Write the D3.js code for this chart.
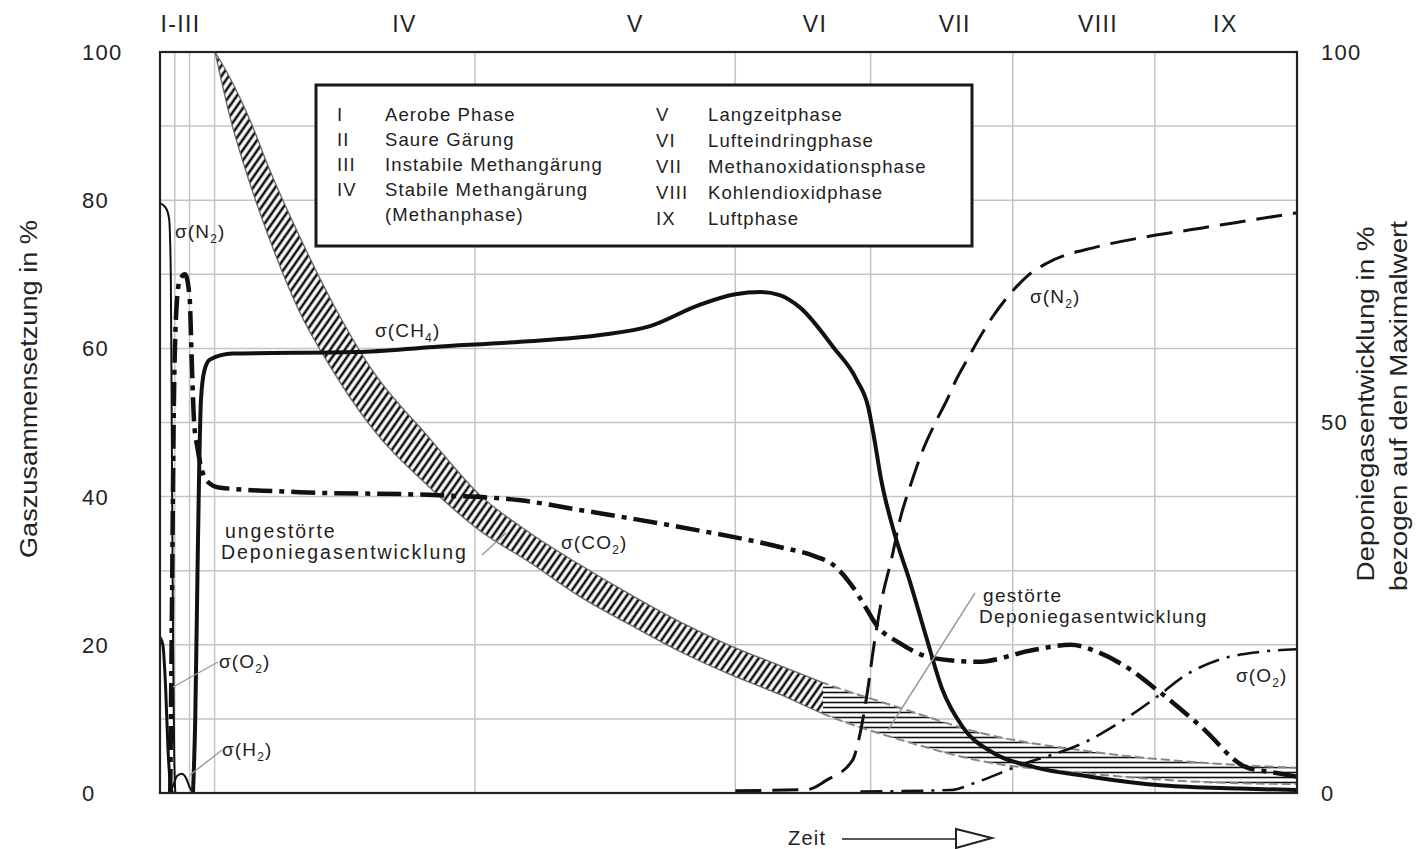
<!DOCTYPE html>
<html>
<head>
<meta charset="utf-8">
<script src="https://cdn.jsdelivr.net/npm/d3@7"></script>
<style>
	html, body { margin: 0; padding: 0; background: #fff; }
	svg { display: block; }
	text { font-family: 'Liberation Sans', Arial, sans-serif; fill: #222; letter-spacing: 0.06em; }
</style>
</head>
<body>
<script>
// phases along the time axis (time runs 0..100, no units)
const phaseLabels = ['I-III', 'IV', 'V', 'VI', 'VII', 'VIII', 'IX'];
const phaseT = [1.8, 21.5, 41.8, 57.6, 69.9, 82.5, 93.7];
const gridT = [1.3, 2.6, 4.8, 27.7, 50.6, 62.5, 75, 87.5];
const gridV = [10, 20, 30, 40, 50, 60, 70, 80, 90];
const leftTicks = [0, 20, 40, 60, 80, 100];
const rightTicks = [0, 50, 100];

// gas composition in % : [time, value]
const ch4 = [[2.9, 0], [3.1, 10], [3.3, 30], [3.45, 44], [3.6, 53], [3.9, 57], [4.4, 58.5], [6.4, 59.3],
	[17.3, 59.5], [24.1, 60.2], [31.7, 60.9], [38.7, 61.8], [43.1, 63], [47.5, 65.9], [50.6, 67.3],
	[52.8, 67.6], [54.5, 67.2], [56.3, 65.5], [59.2, 60.2], [61.3, 55.7], [62.3, 52], [62.8, 48],
	[63.4, 42.5], [64.6, 35], [66.0, 28.3], [67.4, 21], [68.8, 14], [70.6, 8.9], [73.3, 5.4],
	[76.9, 3.5], [81.8, 2.2], [88.3, 1.0], [95, 0.6], [100, 0.4]];
const co2 = [[0.9, 0], [1.05, 25], [1.2, 50], [1.4, 64], [1.7, 69], [2.2, 70], [2.6, 67], [2.8, 58],
	[3.0, 50], [3.3, 46.5], [3.7, 43.5], [4.2, 42], [5.3, 41.2], [12.3, 40.6], [24.1, 40.2], [31.7, 39.5],
	[36.9, 38.2], [45.7, 35.9], [54.5, 33.2], [57.5, 32], [59.2, 30.8], [60.7, 28.3], [62.2, 24.7],
	[62.9, 22.9], [65.1, 20.2], [68.0, 18.2], [71.9, 17.7], [76.8, 19.3], [80.1, 20], [82.5, 19],
	[85.0, 17], [87.7, 13.9], [91.6, 8.9], [95.5, 3.5], [98.2, 2.7], [100, 2.2]];
const n2Early = [[0, 79.6], [0.5, 79], [0.8, 77.5], [0.95, 70], [1.05, 45], [1.15, 20], [1.25, 5], [1.35, 0]];
const o2Early = [[0, 21], [0.25, 20], [0.5, 14], [0.7, 6], [0.9, 1.5], [1.1, 0]];
const h2 = [[0.9, 0], [1.2, 1.2], [1.5, 2.3], [1.9, 2.6], [2.3, 2.0], [2.6, 0.8], [2.9, 0]];
const n2Late = [[50.6, 0.3], [57, 0.5], [58.6, 1.7], [60.9, 4.4], [61.5, 7.5], [62.2, 13.5], [62.8, 20],
	[63.4, 25.5], [64.4, 32], [65.1, 37], [66.0, 41.5], [67.1, 46.3], [68.3, 50.3], [69.2, 53], [70.1, 56],
	[71.0, 58.5], [72.3, 62], [73.2, 64.2], [74.9, 67.6], [76.3, 69.8], [78.0, 71.5], [82.4, 73.7],
	[86.5, 75], [90.6, 76], [94.7, 77], [100, 78.3]];
const o2Late = [[61.6, 0.2], [69.5, 0.4], [71.9, 1.5], [75.2, 3.5], [81.8, 7.2], [85.0, 10.1], [87.7, 13],
	[90.2, 15.9], [93.2, 18], [96.5, 19], [100, 19.4]];

// landfill gas production, % of maximum (right axis)
const bandT = [4.84, 6.16, 7.92, 9.67, 12.31, 14.95, 18.47, 23.75, 28.14, 32.54, 36.94, 41.34, 45.73,
	50.13, 54.53, 58.31, 65.08, 71.94, 81.79, 91.56, 100];
const bandHi = [100, 96.5, 90.8, 84, 75, 66.8, 57.5, 47.8, 40.2, 35.1, 30.8, 26.8, 23.1, 19.9, 17.2,
	14.9, 11.5, 8.2, 5.6, 4.1, 3.4];
const bandLo = [100, 91.2, 82.2, 74.6, 64.8, 57.6, 49.6, 41.2, 35.4, 31.1, 26.5, 22.7, 19.1, 16.0, 13.3,
	10.7, 7.2, 4.4, 2.6, 1.5, 1.2];
const bandSplit = 58.31; // undisturbed -> disturbed

const legendLeft = [['I', 'Aerobe Phase'], ['II', 'Saure Gärung'], ['III', 'Instabile Methangärung'],
	['IV', 'Stabile Methangärung'], ['', '(Methanphase)']];
const legendRight = [['V', 'Langzeitphase'], ['VI', 'Lufteindringphase'], ['VII', 'Methanoxidationsphase'],
	['VIII', 'Kohlendioxidphase'], ['IX', 'Luftphase']];

const W = 1425, H = 849;
const m = { top: 52, right: 128, bottom: 56, left: 160 };

const x = d3.scaleLinear().domain([0, 100]).range([m.left, W - m.right]);
const y = d3.scaleLinear().domain([0, 100]).range([H - m.bottom, m.top]);
const yR = d3.scaleLinear().domain([0, 100]).range([H - m.bottom, m.top]);

const svg = d3.select('body').append('svg').attr('width', W).attr('height', H);
const defs = svg.append('defs');

defs.append('clipPath').attr('id', 'plot')
	.append('rect').attr('x', x(0)).attr('y', y(100)).attr('width', x(100) - x(0)).attr('height', y(0) - y(100));
defs.append('clipPath').attr('id', 'undisturbed')
	.append('rect').attr('x', x(0)).attr('y', y(100)).attr('width', x(bandSplit) - x(0)).attr('height', y(0) - y(100));
defs.append('clipPath').attr('id', 'disturbed')
	.append('rect').attr('x', x(bandSplit)).attr('y', y(100)).attr('width', x(100) - x(bandSplit)).attr('height', y(0) - y(100));

// hatch patterns
const diag = defs.append('pattern').attr('id', 'diag').attr('patternUnits', 'userSpaceOnUse')
	.attr('width', 6).attr('height', 6).attr('patternTransform', 'rotate(35)');
diag.append('rect').attr('width', 6).attr('height', 6).attr('fill', '#fff');
diag.append('line').attr('x1', 3).attr('x2', 3).attr('y1', 0).attr('y2', 6).attr('stroke', '#111').attr('stroke-width', 2.6);
const horiz = defs.append('pattern').attr('id', 'horiz').attr('patternUnits', 'userSpaceOnUse')
	.attr('width', 10).attr('height', 5);
horiz.append('rect').attr('width', 10).attr('height', 5).attr('fill', '#fff');
horiz.append('line').attr('x1', 0).attr('x2', 10).attr('y1', 2.5).attr('y2', 2.5).attr('stroke', '#111').attr('stroke-width', 1.6);

// grid
const grid = svg.append('g').attr('stroke', '#c4c4c4').attr('stroke-width', 1.5);
grid.selectAll('.gv').data(gridT).join('line')
	.attr('x1', (d) => x(d)).attr('x2', (d) => x(d)).attr('y1', y(0)).attr('y2', y(100));
grid.selectAll('.gh').data(gridV).join('line')
	.attr('x1', x(0)).attr('x2', x(100)).attr('y1', (d) => y(d)).attr('y2', (d) => y(d));

// band of gas production
const idx = d3.range(bandT.length);
const area = d3.area().curve(d3.curveMonotoneX)
	.x((i) => x(bandT[i])).y0((i) => yR(bandLo[i])).y1((i) => yR(bandHi[i]));
const edgeHi = d3.line().curve(d3.curveMonotoneX).x((i) => x(bandT[i])).y((i) => yR(bandHi[i]));
const edgeLo = d3.line().curve(d3.curveMonotoneX).x((i) => x(bandT[i])).y((i) => yR(bandLo[i]));

const bandG = svg.append('g').attr('clip-path', 'url(#plot)');
bandG.append('path').attr('d', area(idx)).attr('fill', 'url(#diag)').attr('clip-path', 'url(#undisturbed)');
bandG.append('path').attr('d', area(idx)).attr('fill', 'url(#horiz)').attr('clip-path', 'url(#disturbed)');
[edgeHi, edgeLo].forEach((ln) => {
	bandG.append('path').attr('d', ln(idx)).attr('fill', 'none').attr('stroke', '#666')
		.attr('stroke-width', 1.3).attr('clip-path', 'url(#undisturbed)');
	bandG.append('path').attr('d', ln(idx)).attr('fill', 'none').attr('stroke', '#888')
		.attr('stroke-width', 2).attr('stroke-dasharray', '9,4').attr('clip-path', 'url(#disturbed)');
});

// gas curves
const line = d3.line().curve(d3.curveMonotoneX).x((d) => x(d[0])).y((d) => y(d[1]));
const curves = svg.append('g').attr('clip-path', 'url(#plot)').attr('fill', 'none').attr('stroke', '#111');
curves.append('path').attr('d', line(o2Early)).attr('stroke-width', 3);
curves.append('path').attr('d', line(n2Early)).attr('stroke-width', 2);
curves.append('path').attr('d', line(h2)).attr('stroke-width', 2);
curves.append('path').attr('d', line(o2Late)).attr('stroke-width', 2.6).attr('stroke-dasharray', '22,8,3,8');
curves.append('path').attr('d', line(n2Late)).attr('stroke-width', 3).attr('stroke-dasharray', '26,11');
curves.append('path').attr('d', line(co2)).attr('stroke-width', 4.5).attr('stroke-dasharray', '24,7,5,7');
curves.append('path').attr('d', line(ch4)).attr('stroke-width', 4);

// frame
svg.append('rect').attr('x', x(0)).attr('y', y(100)).attr('width', x(100) - x(0)).attr('height', y(0) - y(100))
	.attr('fill', 'none').attr('stroke', '#222').attr('stroke-width', 2.2);

// axes
const axL = svg.append('g').attr('transform', 'translate(82,0)')
	.call(d3.axisLeft(y).tickValues(leftTicks).tickSize(0).tickPadding(0));
const axR = svg.append('g').attr('transform', 'translate(1321,0)')
	.call(d3.axisRight(y).tickValues(rightTicks).tickSize(0).tickPadding(0));
[axL, axR].forEach((g) => {
	g.select('.domain').remove();
	g.selectAll('text').attr('text-anchor', 'start').attr('x', 0).attr('dy', '0.34em')
		.style('font-family', "'Liberation Sans', Arial, sans-serif").style('font-size', '22px').style('fill', '#222');
});

// phase labels
svg.append('g').selectAll('text').data(phaseLabels).join('text')
	.attr('x', (d, i) => x(phaseT[i])).attr('y', 32).attr('text-anchor', 'middle')
	.attr('font-size', 23).text((d) => d);

// axis titles
svg.append('text').attr('transform', 'translate(37,389) rotate(-90)').attr('text-anchor', 'middle')
	.attr('font-size', 23).style('letter-spacing', 0).attr('textLength', 338).attr('lengthAdjust', 'spacingAndGlyphs')
	.text('Gaszusammensetzung in %');
svg.append('text').attr('transform', 'translate(1374,404) rotate(-90)').attr('text-anchor', 'middle')
	.attr('font-size', 23).style('letter-spacing', 0).attr('textLength', 355).attr('lengthAdjust', 'spacingAndGlyphs')
	.text('Deponiegasentwicklung in %');
svg.append('text').attr('transform', 'translate(1407,406) rotate(-90)').attr('text-anchor', 'middle')
	.attr('font-size', 23).style('letter-spacing', 0).attr('textLength', 370).attr('lengthAdjust', 'spacingAndGlyphs')
	.text('bezogen auf den Maximalwert');

// time arrow
svg.append('text').attr('x', 788).attr('y', 845).attr('font-size', 20).text('Zeit');
svg.append('line').attr('x1', 842).attr('x2', 956).attr('y1', 839).attr('y2', 839).attr('stroke', '#222').attr('stroke-width', 1.6);
svg.append('path').attr('d', 'M956,829 L992,838 L956,848 Z').attr('fill', '#fff').attr('stroke', '#222').attr('stroke-width', 2);

// legend box
const lg = svg.append('g');
lg.append('rect').attr('x', 316).attr('y', 85).attr('width', 656).attr('height', 161)
	.attr('fill', '#fff').attr('stroke', '#1a1a1a').attr('stroke-width', 3);
const rows = (data, xn, xt, y0, step) => {
	const g = lg.append('g').attr('font-size', 18.5);
	g.selectAll('.n').data(data).join('text').attr('x', xn).attr('y', (d, i) => y0 + i * step).text((d) => d[0]);
	g.selectAll('.t').data(data).join('text').attr('x', xt).attr('y', (d, i) => y0 + i * step).text((d) => d[1]);
};
rows(legendLeft, 337, 385, 121, 25);
rows(legendRight, 656, 708, 121, 26);

// curve labels
function sigma(px, py, gas, sub) {
	const t = svg.append('text').attr('x', px).attr('y', py).attr('font-size', 19);
	t.append('tspan').text('σ(' + gas);
	t.append('tspan').attr('font-size', 12).attr('dy', 5).text(sub);
	t.append('tspan').attr('dy', -5).text(')');
}
sigma(175, 238, 'N', '2');
sigma(375, 337, 'CH', '4');
sigma(561, 549, 'CO', '2');
sigma(1030, 303, 'N', '2');
sigma(1236, 682, 'O', '2');
sigma(219, 668, 'O', '2');
sigma(222, 756, 'H', '2');

// leaders
const lead = svg.append('g').attr('stroke', '#999').attr('stroke-width', 1.4);
lead.append('line').attr('x1', 218).attr('y1', 662).attr('x2', 173).attr('y2', 687);
lead.append('line').attr('x1', 222).attr('y1', 750).attr('x2', 190).attr('y2', 775);
lead.append('line').attr('x1', 482).attr('y1', 555).attr('x2', 506).attr('y2', 533);
lead.append('line').attr('x1', 975).attr('y1', 593).attr('x2', 888).attr('y2', 730);

const note = (px, py, size, spacing, lines) => {
	const t = svg.append('text').attr('font-size', size).style('letter-spacing', spacing);
	lines.forEach((s, i) => t.append('tspan').attr('x', px + (i ? -4 : 0)).attr('y', py + i * 21).text(s));
};
note(225, 538, 19.5, '0.1em', ['ungestörte', 'Deponiegasentwicklung']);
note(983, 602, 19, '0.07em', ['gestörte', 'Deponiegasentwicklung']);
</script>
</body>
</html>
